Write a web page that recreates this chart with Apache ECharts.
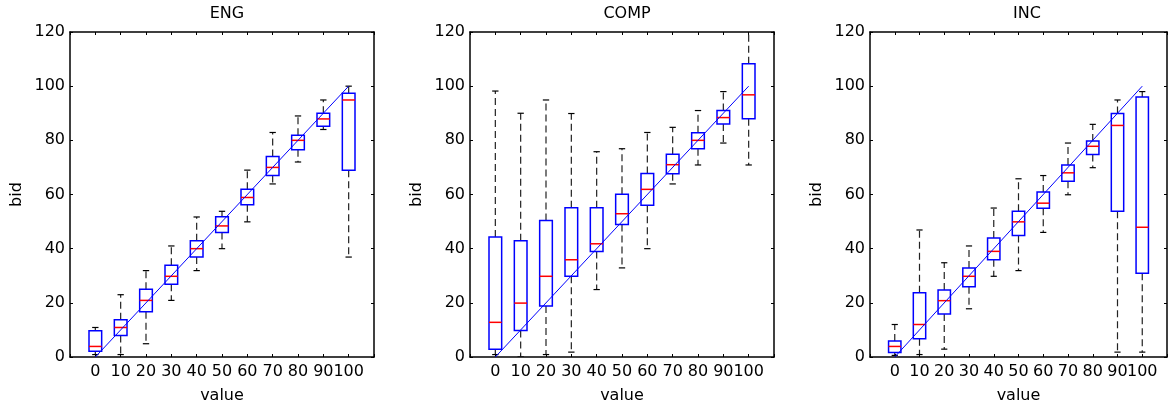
<!DOCTYPE html>
<html>
<head>
<meta charset="utf-8">
<script src="https://cdn.jsdelivr.net/npm/echarts@6/dist/echarts.min.js"></script>
<style>
html,body{margin:0;padding:0;background:#fff;}
#chart{width:1170px;height:409px;}
</style>
</head>
<body>
<div id="chart"></div>
<script>
const categories = ['0','10','20','30','40','50','60','70','80','90','100'];
const values = [0,10,20,30,40,50,60,70,80,90,100];
const yTicks = [0,20,40,60,80,100,120];
const titles = ['ENG','COMP','INC'];

// ENG
const engQ1  = [2.1, 7.9, 16.7, 26.9, 36.9, 46.0, 56.2, 67.0, 76.5, 85.2, 69.0];
const engMed = [3.9, 10.9, 20.9, 29.8, 40.0, 48.4, 58.9, 70.0, 80.0, 87.9, 94.9];
const engQ3  = [9.7, 13.8, 25.0, 33.9, 42.9, 51.8, 61.9, 74.0, 81.9, 90.0, 97.4];
const engLo  = [0.9, 0.9, 4.9, 20.9, 31.9, 40.0, 49.9, 63.9, 72.0, 84.0, 36.9];
const engHi  = [10.9, 23.0, 31.9, 41.0, 51.7, 53.8, 69.0, 82.9, 89.0, 94.9, 100.0];

// COMP
const compQ1  = [2.9, 9.8, 18.8, 29.8, 39.0, 48.9, 56.0, 67.7, 76.9, 86.0, 88.0];
const compMed = [12.8, 19.9, 29.8, 35.9, 41.8, 52.9, 61.9, 71.0, 80.0, 88.4, 96.8];
const compQ3  = [44.3, 42.9, 50.4, 55.1, 55.1, 60.1, 67.8, 74.9, 82.8, 91.0, 108.3];
const compLo  = [0.9, 0.0, 0.9, 1.8, 24.9, 32.9, 40.0, 63.9, 70.9, 79.0, 70.9];
const compHi  = [98.2, 90.0, 94.9, 89.9, 75.8, 76.9, 82.9, 84.8, 91.0, 98.0, 125.0];

// INC
const incQ1  = [1.7, 6.7, 15.9, 25.9, 35.9, 44.9, 54.9, 64.9, 74.8, 53.8, 30.9];
const incMed = [3.9, 12.0, 20.8, 29.8, 39.0, 49.9, 56.8, 68.0, 77.8, 85.5, 47.9];
const incQ3  = [5.9, 23.7, 24.7, 32.9, 43.9, 53.8, 60.9, 70.9, 79.8, 89.9, 96.0];
const incLo  = [0.6, 0.9, 2.9, 17.8, 29.8, 31.9, 46.0, 59.9, 69.9, 1.8, 1.8];
const incHi  = [12.0, 46.9, 34.8, 41.0, 55.0, 65.8, 67.0, 79.0, 85.9, 94.9, 98.0];

const panels = [
  {q1: engQ1, med: engMed, q3: engQ3, lo: engLo, hi: engHi},
  {q1: compQ1, med: compMed, q3: compQ3, lo: compLo, hi: compHi},
  {q1: incQ1, med: incMed, q3: incQ3, lo: incLo, hi: incHi}
];

const gridLefts = [70, 470, 870];
const gridW = 304, gridTop = 32, gridH = 327;
const FONT = 'DejaVu Sans';
const FS = 16;

const chart = echarts.init(document.getElementById('chart'), null, {renderer: 'canvas'});

function renderBox(params, api) {
  const x = api.value(0);
  const lo = api.value(1), q1 = api.value(2), med = api.value(3), q3 = api.value(4), hi = api.value(5);
  const bw = 0.5, cw = 0.25;
  const pL = api.coord([x - bw/2, q1]);
  const pR = api.coord([x + bw/2, q3]);
  const pc = api.coord([x, 0]);
  const yOf = v => api.coord([x, v])[1];
  const cL = api.coord([x - cw/2, 0])[0], cR = api.coord([x + cw/2, 0])[0];
  const cx = pc[0];
  const blk = {stroke: '#000', lineWidth: 1.2};
  const dash = {stroke: '#222', lineWidth: 1.2, lineDash: [7, 4]};
  return {
    type: 'group',
    children: [
      {type: 'line', shape: {x1: cx, y1: yOf(q3), x2: cx, y2: yOf(hi)}, style: dash},
      {type: 'line', shape: {x1: cx, y1: yOf(q1), x2: cx, y2: yOf(lo)}, style: dash},
      {type: 'line', shape: {x1: cL, y1: yOf(hi), x2: cR, y2: yOf(hi)}, style: blk},
      {type: 'line', shape: {x1: cL, y1: yOf(lo), x2: cR, y2: yOf(lo)}, style: blk},
      {type: 'rect', shape: {x: pL[0], y: pR[1], width: pR[0] - pL[0], height: pL[1] - pR[1]},
        style: {fill: 'none', stroke: '#0000ff', lineWidth: 1.5}},
      {type: 'line', shape: {x1: pL[0], y1: yOf(med), x2: pR[0], y2: yOf(med)},
        style: {stroke: '#ff0000', lineWidth: 1.5}}
    ]
  };
}

const grid = [], xAxis = [], yAxis = [], series = [], title = [];
panels.forEach((p, i) => {
  grid.push({left: gridLefts[i], top: gridTop, width: gridW, height: gridH, containLabel: false});
  title.push({
    text: titles[i], left: gridLefts[i] + gridW / 2, top: 1, textAlign: 'center',
    textStyle: {fontFamily: FONT, fontSize: FS, fontWeight: 'normal', color: '#000'}
  });
  const common = {
    type: 'value', gridIndex: i, min: 0, max: 12, interval: 1,
    axisLine: {show: true, onZero: false, lineStyle: {color: '#000', width: 1.5}},
    axisTick: {show: true, inside: true, length: 3, lineStyle: {color: '#000'}},
    splitLine: {show: false}
  };
  xAxis.push(Object.assign({}, common, {
    position: 'bottom',
    name: 'value', nameLocation: 'middle', nameGap: 31,
    nameTextStyle: {fontFamily: FONT, fontSize: FS, color: '#000'},
    axisLabel: {
      fontFamily: FONT, fontSize: FS, color: '#000', margin: 7,
      formatter: v => (v >= 1 && v <= categories.length) ? categories[v - 1] : ''
    }
  }));
  xAxis.push(Object.assign({}, common, {position: 'top', axisLabel: {show: false}}));
  const ycommon = {
    type: 'value', gridIndex: i, min: yTicks[0], max: yTicks[yTicks.length - 1], interval: 20,
    axisLine: {show: true, onZero: false, lineStyle: {color: '#000', width: 1.5}},
    axisTick: {show: true, inside: true, length: 3, lineStyle: {color: '#000'}},
    splitLine: {show: false}
  };
  yAxis.push(Object.assign({}, ycommon, {
    position: 'left',
    name: 'bid', nameLocation: 'middle', nameGap: 45,
    nameTextStyle: {fontFamily: FONT, fontSize: FS, color: '#000'},
    axisLabel: {fontFamily: FONT, fontSize: FS, color: '#000', margin: 5}
  }));
  yAxis.push(Object.assign({}, ycommon, {position: 'right', axisLabel: {show: false}}));

  const data = categories.map((c, k) => [k + 1, p.lo[k], p.q1[k], p.med[k], p.q3[k], p.hi[k]]);
  series.push({
    type: 'custom', xAxisIndex: i * 2, yAxisIndex: i * 2, clip: true,
    renderItem: renderBox, data: data, animation: false, silent: true
  });
  series.push({
    type: 'line', xAxisIndex: i * 2, yAxisIndex: i * 2,
    data: [[1, values[0]], [categories.length, values[values.length - 1]]],
    symbol: 'none', lineStyle: {color: '#0000ff', width: 1}, animation: false, silent: true
  });
});

chart.setOption({
  backgroundColor: '#fff',
  animation: false,
  title: title,
  grid: grid,
  xAxis: xAxis,
  yAxis: yAxis,
  series: series
});
</script>
</body>
</html>
